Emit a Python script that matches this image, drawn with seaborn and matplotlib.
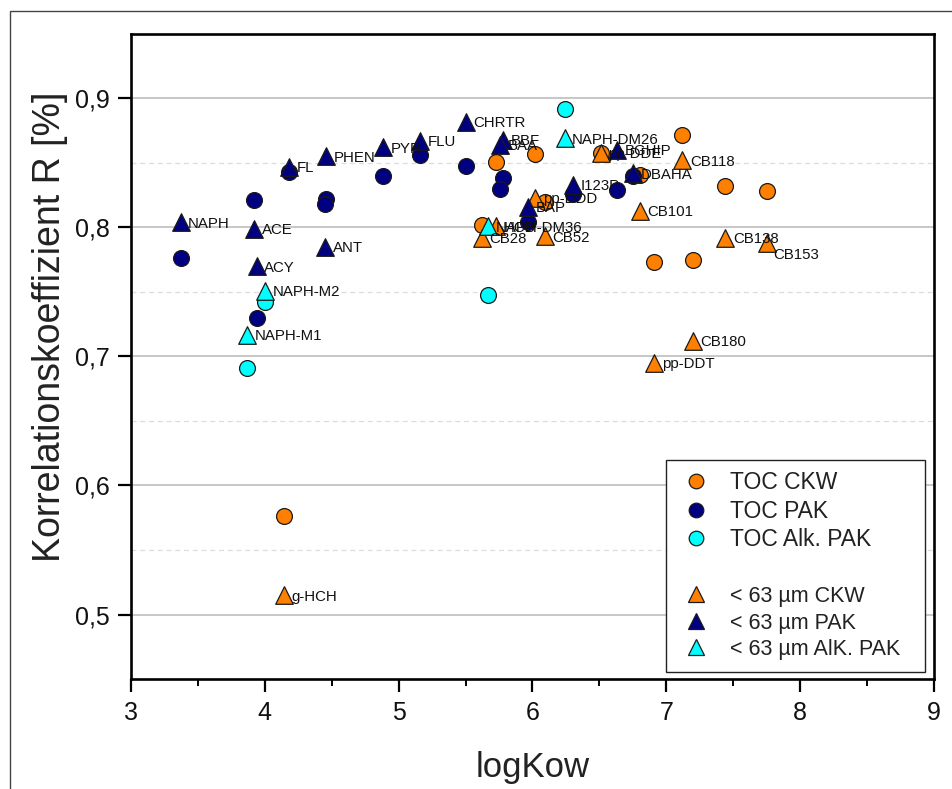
import numpy as np
import pandas as pd
import seaborn as sns
import matplotlib.pyplot as plt
from matplotlib.lines import Line2D
from matplotlib.patches import Rectangle
from matplotlib.ticker import MultipleLocator, FuncFormatter

# Chlorinated hydrocarbons (CKW)
ckw_names = ["g-HCH", "CB28", "HCB", "CB52", "pp-DDD", "pp-DDE",
             "CB101", "CB118", "CB138", "CB153", "CB180", "pp-DDT"]
ckw_logkow = [4.14, 5.62, 5.73, 6.09, 6.02, 6.51, 6.80, 7.12, 7.44, 7.75, 7.20, 6.91]
ckw_toc = [0.576, 0.802, 0.851, 0.820, 0.857, 0.858, 0.841, 0.872, 0.832, 0.828, 0.775, 0.773]
ckw_fine = [0.515, 0.792, 0.801, 0.793, 0.823, 0.858, 0.813, 0.852, 0.792, 0.788, 0.712, 0.695]

# Polycyclic aromatic hydrocarbons (PAK)
pak_names = ["NAPH", "ACE", "ACY", "FL", "PHEN", "ANT", "PYR", "FLU",
             "CHRTR", "BBF", "BAA", "BAP", "I123P", "BGHIP", "DBAHA"]
pak_logkow = [3.37, 3.92, 3.94, 4.18, 4.46, 4.45, 4.88, 5.16,
              5.50, 5.78, 5.76, 5.97, 6.30, 6.63, 6.75]
pak_toc = [0.776, 0.821, 0.730, 0.843, 0.822, 0.818, 0.840, 0.856,
           0.848, 0.838, 0.830, 0.804, 0.826, 0.829, 0.840]
pak_fine = [0.804, 0.799, 0.770, 0.847, 0.855, 0.785, 0.862, 0.867,
            0.882, 0.868, 0.864, 0.816, 0.833, 0.860, 0.842]

# Alkylated PAK
alk_names = ["NAPH-M2", "NAPH-M1", "NAPH-DM26", "NAPH-DM36"]
alk_logkow = [4.00, 3.87, 6.24, 5.67]
alk_toc = [0.742, 0.691, 0.892, 0.748]
alk_fine = [0.751, 0.717, 0.869, 0.801]

groups = [
    ("CKW", ckw_names, ckw_logkow, ckw_toc, ckw_fine, "#FF8000"),
    ("PAK", pak_names, pak_logkow, pak_toc, pak_fine, "#000080"),
    ("Alk. PAK", alk_names, alk_logkow, alk_toc, alk_fine, "#00FFFF"),
]

rows = []
for grp, names, kow, toc, fine, _ in groups:
    for n, k, t, f in zip(names, kow, toc, fine):
        rows.append({"group": grp, "name": n, "logKow": k, "R": t, "fraction": "TOC"})
        rows.append({"group": grp, "name": n, "logKow": k, "R": f, "fraction": "< 63 µm"})
df = pd.DataFrame(rows)

sns.set_theme(style="white")
plt.rcParams["font.family"] = ["Liberation Sans", "DejaVu Sans"]

fig = plt.figure(figsize=(9.53, 7.89), dpi=100)
ax = fig.add_axes([0.1375, 0.1394, 0.8425, 0.8176])

edge = "#1a1a1a"
# TOC correlations (circles) first, fine fraction (triangles) on top
for grp, *_, col in groups:
    sub = df[(df.group == grp) & (df.fraction == "TOC")]
    sns.scatterplot(data=sub, x="logKow", y="R", ax=ax, color=col, marker="o",
                    s=130, edgecolor=edge, linewidth=0.9, zorder=3, legend=False)
for grp, *_, col in groups:
    sub = df[(df.group == grp) & (df.fraction == "< 63 µm")]
    sns.scatterplot(data=sub, x="logKow", y="R", ax=ax, color=col, marker="^",
                    s=160, edgecolor=edge, linewidth=0.9, zorder=4, legend=False)

# compound labels next to the fine-fraction triangles
special = {"CB153": (5, -9)}
for _, r in df[df.fraction == "< 63 µm"].iterrows():
    off = special.get(r["name"], (5.5, -1))
    ax.annotate(r["name"], (r["logKow"], r["R"]), xytext=off,
                textcoords="offset points", ha="left", va="center",
                fontsize=10.8, color="#111111", zorder=5)

ax.set_xlim(3, 9)
ax.set_ylim(0.45, 0.95)
ax.xaxis.set_major_locator(MultipleLocator(1))
ax.xaxis.set_minor_locator(MultipleLocator(0.5))
ax.yaxis.set_major_locator(MultipleLocator(0.1))
ax.yaxis.set_minor_locator(MultipleLocator(0.05))
ax.yaxis.set_major_formatter(FuncFormatter(lambda v, p: f"{v:.1f}".replace(".", ",")))

ax.grid(True, axis="y", which="major", color="#bdbdbd", linewidth=1.2, linestyle="-", zorder=0)
ax.grid(True, axis="y", which="minor", color="#dddddd", linewidth=0.9, linestyle=(0, (4, 3)), zorder=0)
ax.grid(False, axis="x")
ax.set_axisbelow(True)

ax.tick_params(axis="x", which="major", direction="out", length=9.5, width=1.6,
               labelsize=18, bottom=True, pad=6, color="black", labelcolor="#111111")
ax.tick_params(axis="x", which="minor", direction="out", length=5, width=1.4,
               bottom=True, color="black")
ax.tick_params(axis="y", which="major", direction="out", length=9.5, width=1.6,
               labelsize=18, left=True, pad=6, color="black", labelcolor="#111111")
ax.tick_params(axis="y", which="minor", left=False)
for side in ["left", "bottom", "top", "right"]:
    ax.spines[side].set_visible(True)
    ax.spines[side].set_color("black")
    ax.spines[side].set_linewidth(1.9)

ax.set_xlabel("logKow", fontsize=25, color="#222222")
ax.xaxis.set_label_coords(0.5, -0.112)
ax.set_ylabel("Korrelationskoeffizient R [%]", fontsize=27, color="#222222")
ax.yaxis.set_label_coords(-0.078, 0.546)

# legend: circles for TOC, blank row, triangles for the < 63 µm fraction
handles = []
labels = []
for grp, *_, col in groups:
    handles.append(Line2D([], [], linestyle="none", marker="o", markersize=10.5,
                          markerfacecolor=col, markeredgecolor=edge, markeredgewidth=0.9))
    labels.append(f"TOC {grp}")
handles.append(Line2D([], [], linestyle="none"))
labels.append(" ")
for lab, (grp, *_, col) in zip(["< 63 µm CKW", "< 63 µm PAK", "< 63 µm AlK. PAK"], groups):
    handles.append(Line2D([], [], linestyle="none", marker="^", markersize=11.5,
                          markerfacecolor=col, markeredgecolor=edge, markeredgewidth=0.9))
    labels.append(lab)

leg = ax.legend(handles, labels, loc="lower left",
                bbox_to_anchor=(0.6663, 0.011, 0.3225, 0.3), mode="expand",
                borderaxespad=0, frameon=True, fancybox=False, edgecolor="#222222",
                framealpha=1, fontsize=16.5, handletextpad=0.7, borderpad=0.5,
                labelspacing=0.25, handlelength=1.6)
leg.get_frame().set_linewidth(1.0)
for t in leg.get_texts()[4:]:
    t.set_fontsize(15.5)
for t in leg.get_texts():
    t.set_color("#222222")

# outer frame around the figure
fig.patches.append(Rectangle((10 / 953, -0.1), 1.2, 1.1 - 11 / 789,
                             transform=fig.transFigure, fill=False,
                             edgecolor="#444444", linewidth=1.0, zorder=0))

fig.savefig("out.png", dpi=100)
